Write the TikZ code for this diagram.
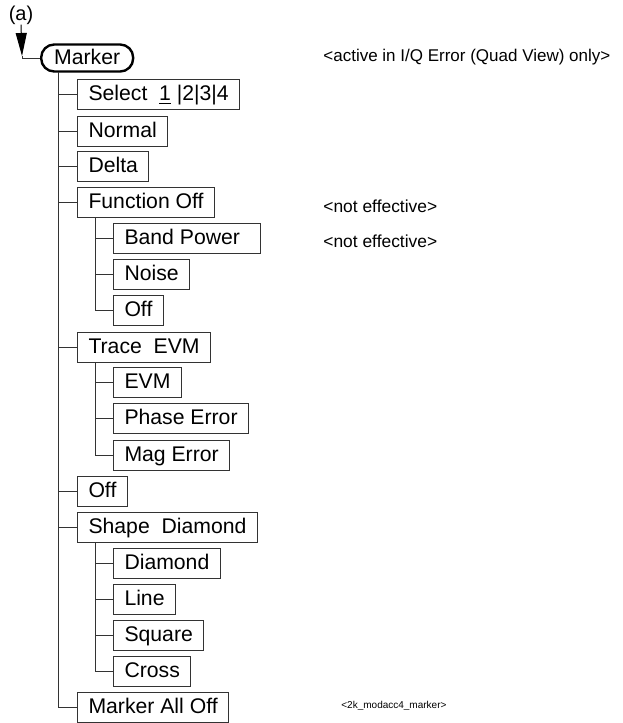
\documentclass[tikz,border=0pt]{standalone}
\usepackage{fontspec}
\setmainfont{Liberation Sans}
\usetikzlibrary{arrows.meta}
\definecolor{menuline}{HTML}{333333}
\tikzset{
  >={Triangle[length=11.5pt, width=5.5pt]},
  box/.style={rectangle, draw=menuline, line width=0.5pt, anchor=west,
              inner xsep=5.5pt, inner ysep=0pt, minimum height=15pt,
              text height=7.6pt, text depth=1.5pt, font=\fontsize{10.6}{12}\selectfont},
  boxm/.style={box, rounded corners=6.5pt, draw=black, line width=1.2pt,
               inner xsep=6.5pt, minimum height=13.5pt},
  flow/.style={draw=menuline, line width=0.5pt},
  lbl/.style={anchor=west, inner sep=0pt, font=\fontsize{8.7}{11}\selectfont},
}

\begin{document}
\begin{tikzpicture}[x=0.5pt, y=-0.5pt]
  \useasboundingbox (0,0) rectangle (622,723);
  % entry
  \node[inner sep=0pt, font=\fontsize{10}{12}\selectfont] (alab) at (21,15) {(a)};
  \coordinate (entry) at (22,56);
  \node[boxm] (marker) at (40,58) {Marker};
  \draw[flow, ->, draw=black] (alab.south) -- (entry);
  \draw[flow] (entry) |- (marker.west);
  % first level
  \node[box] (sel) at (77,94) {Select\ \ \underline{1} |2|3|4};
  \node[box] (normal) at (77,131) {Normal};
  \node[box] (delta) at (77,166) {Delta};
  \node[box] (funcoff) at (77,202) {Function Off};
  \node[box] (trace) at (77,347) {Trace\ \ EVM};
  \node[box] (off) at (77,491) {Off};
  \node[box] (shape) at (77,527) {Shape\ \ Diamond};
  \node[box] (alloff) at (77,707) {Marker All Off};
  % function submenu
  \node[box] (band) at (113,238) {Band Power\ \,};
  \node[box] (noise) at (113,274) {Noise};
  \node[box] (fnoff) at (113,310) {Off};
  % trace submenu
  \node[box] (evm) at (113,382) {EVM};
  \node[box] (phase) at (113,418) {Phase Error};
  \node[box] (mag) at (113,455) {Mag Error};
  % shape submenu
  \node[box] (diamond) at (113,563) {Diamond};
  \node[box] (line) at (113,599) {Line};
  \node[box] (square) at (113,635) {Square};
  \node[box] (cross) at (113,671) {Cross};
  % main trunk
  \coordinate (trunk) at (58,72);
  \draw[flow] (trunk) |- (alloff.west);
  \draw[flow] (trunk |- sel.west) -- (sel.west);
  \draw[flow] (trunk |- normal.west) -- (normal.west);
  \draw[flow] (trunk |- delta.west) -- (delta.west);
  \draw[flow] (trunk |- funcoff.west) -- (funcoff.west);
  \draw[flow] (trunk |- trace.west) -- (trace.west);
  \draw[flow] (trunk |- off.west) -- (off.west);
  \draw[flow] (trunk |- shape.west) -- (shape.west);
  % sub trunks
  \draw[flow] (funcoff.south west) ++(18,0) coordinate (fsub) |- (fnoff.west);
  \draw[flow] (fsub |- band.west) -- (band.west);
  \draw[flow] (fsub |- noise.west) -- (noise.west);
  \draw[flow] (trace.south west) ++(18,0) coordinate (tsub) |- (mag.west);
  \draw[flow] (tsub |- evm.west) -- (evm.west);
  \draw[flow] (tsub |- phase.west) -- (phase.west);
  \draw[flow] (shape.south west) ++(18,0) coordinate (ssub) |- (cross.west);
  \draw[flow] (ssub |- diamond.west) -- (diamond.west);
  \draw[flow] (ssub |- line.west) -- (line.west);
  \draw[flow] (ssub |- square.west) -- (square.west);
  % notes
  \node[lbl, font=\fontsize{8.5}{11}\selectfont] (active) at (323,57) {<active in I/Q Error (Quad View) only>};
  \node[lbl] (noeff1) at (323,206) {<not effective>};
  \node[lbl] (noeff2) at (323,241) {<not effective>};
  \node[lbl, font=\fontsize{5}{6}\selectfont] (figid) at (341,706) {<2k\_modacc4\_marker>};
\end{tikzpicture}
\end{document}
